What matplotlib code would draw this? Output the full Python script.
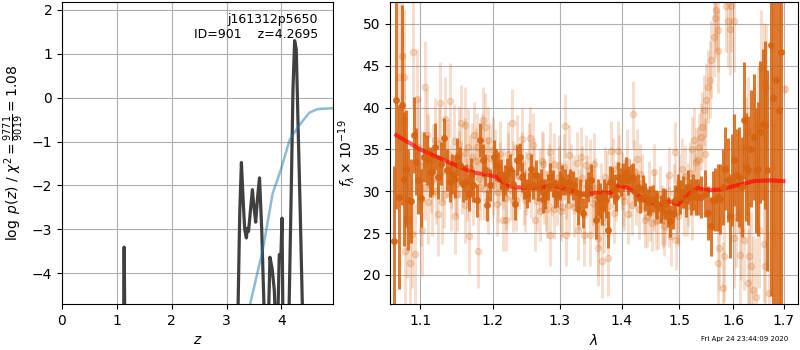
import numpy as np
import matplotlib
matplotlib.use('Agg')
import matplotlib.pyplot as plt
from matplotlib.ticker import NullLocator

# redshift probability (log p(z)) and the cumulative curve
pz_z = [0.0, 1.10, 1.125, 1.133, 1.142, 1.16, 3.15, 3.21, 3.24, 3.27, 3.30, 3.33, 3.36,
        3.38, 3.40, 3.44, 3.47, 3.50, 3.53, 3.57, 3.60, 3.64, 3.68, 3.71, 3.75, 3.77,
        3.79, 3.83, 3.87, 3.90, 3.92, 3.94, 3.96, 3.99, 4.01, 4.03, 4.06, 4.11, 4.14,
        4.18, 4.21, 4.24, 4.27, 4.30, 4.34, 4.38, 4.42, 4.95]
pz_logp = [-9.0, -6.0, -4.7, -3.41, -4.7, -6.0, -8.0, -4.7, -2.6, -1.48, -2.3, -3.0, -3.2,
           -2.98, -3.05, -2.5, -2.1, -2.5, -2.84, -2.2, -1.83, -3.0, -4.7, -6.0, -6.0, -4.7,
           -3.64, -3.9, -4.4, -5.5, -6.0, -4.7, -3.58, -3.6, -2.75, -5.5, -7.0, -7.0, -4.7,
           -2.0, 0.2, 1.30, 1.1, -0.5, -2.5, -4.7, -7.0, -9.0]
cum_z = [3.30, 3.43, 3.66, 3.84, 3.99, 4.15, 4.33, 4.51, 4.66, 4.80, 4.95]
cum_val = [-5.5, -4.7, -3.47, -2.18, -1.64, -0.96, -0.62, -0.34, -0.26, -0.25, -0.24]

# binned spectrum
dark_wave = [1.0655, 1.0686, 1.0730, 1.0760, 1.0786, 1.0817, 1.0839, 1.0874, 1.0917, 1.0948,
             1.0970, 1.1014, 1.1051, 1.1096, 1.1129, 1.1151, 1.1198, 1.1244, 1.1275, 1.1312,
             1.1358, 1.1395, 1.1427, 1.1473, 1.1495, 1.1542, 1.1574, 1.1619, 1.1656, 1.1694,
             1.1725, 1.1771, 1.1817, 1.1863, 1.1886, 1.1922, 1.1955,
             1.2015, 1.2044, 1.2078, 1.2114, 1.2143, 1.2177, 1.2211, 1.2251, 1.2291, 1.2325,
             1.2359, 1.2399, 1.2433, 1.2462, 1.2498, 1.2532, 1.2566, 1.2596, 1.2636, 1.2670,
             1.2705, 1.2744, 1.2779, 1.2813, 1.2852, 1.2891, 1.2926, 1.2965, 1.3000, 1.3042,
             1.3086, 1.3123, 1.3162, 1.3204, 1.3248, 1.3286, 1.3325, 1.3367, 1.3411, 1.3448,
             1.3503,
             1.3573, 1.3605, 1.3643, 1.3670, 1.3714, 1.3735, 1.3773, 1.3805, 1.3833, 1.3877,
             1.3898, 1.3942, 1.3984, 1.4025, 1.4065, 1.4112, 1.4158, 1.4193, 1.4228, 1.4275,
             1.4316, 1.4358, 1.4403, 1.4451, 1.4491, 1.4533, 1.4579, 1.4609, 1.4667, 1.4709,
             1.4754, 1.4802, 1.4842, 1.4884, 1.4930, 1.4972, 1.5019, 1.5063, 1.5112, 1.5162,
             1.5205, 1.5250, 1.5298,
             1.5348, 1.5399, 1.5460, 1.5521, 1.5572, 1.5615, 1.5659, 1.5708, 1.5758, 1.5801,
             1.5846, 1.5894, 1.5931, 1.5976, 1.6020, 1.6073, 1.6118, 1.6163, 1.6202, 1.6249,
             1.6294, 1.6347, 1.6398, 1.6445, 1.6490, 1.6529, 1.6574, 1.6622, 1.6661, 1.6739,
             1.6784, 1.6837, 1.6902, 1.6947]
dark_flux = [24.0, 40.9, 29.3, 40.3, 31.5, 32.7, 29.0, 28.8, 36.7, 33.5,
             31.3, 29.2, 34.1, 33.7, 32.3, 32.3, 35.3, 31.7, 33.3, 36.3,
             32.5, 31.1, 32.1, 31.5, 34.1, 33.1, 30.9, 31.1, 29.7, 31.9,
             30.7, 28.9, 36.1, 33.7, 32.5, 28.3, 30.7,
             34.1, 33.1, 32.9, 32.1, 30.5, 31.3, 32.1, 32.7, 30.9, 28.5,
             33.7, 34.1, 31.7, 30.7, 29.7, 30.5, 32.7, 30.7, 31.9, 30.5,
             31.1, 29.1, 29.7, 30.5, 31.7, 30.9, 29.7, 29.7, 30.7, 31.3,
             31.1, 30.3, 31.1, 30.7, 29.9, 27.9, 29.7, 27.4, 29.7, 30.5,
             31.3,
             26.6, 29.3, 28.9, 28.1, 29.5, 28.9, 25.4, 31.1, 31.1, 30.3,
             29.3, 31.7, 31.1, 31.7, 32.3, 31.3, 31.7, 31.7, 29.9, 30.5,
             29.1, 30.3, 29.3, 28.7, 28.9, 29.1, 28.5, 28.3, 27.9, 28.7,
             28.5, 27.5, 26.4, 27.3, 28.9, 30.1, 29.3, 29.9, 28.9, 30.5,
             29.3, 29.9, 29.3,
             29.3, 29.3, 29.7, 27.4, 25.8, 28.9, 29.0, 29.3, 29.1, 30.5,
             32.7, 31.3, 27.0, 31.3, 33.7, 31.9, 31.7, 30.5, 38.5, 32.9,
             32.5, 35.1, 36.5, 32.5, 32.7, 37.1, 38.0, 37.9, 32.5, 47.5,
             41.1, 43.3, 39.7, 46.6]
dark_err = [9.0, 13.0, 11.0, 12.0, 8.0, 7.0, 6.0, 5.0, 4.5, 4.0,
            4.0, 3.5, 3.0, 3.0, 3.0, 2.8, 2.8, 2.6, 2.6, 2.5,
            2.5, 2.4, 2.4, 2.3, 2.3, 2.2, 2.2, 2.2, 2.1, 2.1,
            2.0, 2.0, 2.0, 2.0, 1.9, 1.9, 1.9,
            2.0, 1.9, 1.8, 1.8, 1.7, 1.8, 1.9, 1.7, 1.8, 1.9,
            1.8, 1.7, 1.8, 1.6, 1.7, 1.8, 1.7, 1.6, 1.8, 1.7,
            1.6, 1.7, 1.8, 1.6, 1.7, 1.6, 1.7, 1.6, 1.7, 1.8,
            1.6, 1.7, 1.6, 1.7, 1.8, 1.9, 1.7, 1.8, 1.7, 1.8,
            1.9,
            2.3, 2.2, 2.1, 2.2, 2.0, 2.1, 2.2, 1.9, 1.8, 1.8,
            1.7, 1.8, 1.7, 1.7, 1.8, 1.7, 1.6, 1.7, 1.7, 1.6,
            1.7, 1.6, 1.7, 1.6, 1.7, 1.6, 1.7, 1.6, 1.7, 1.7,
            1.8, 1.8, 1.9, 1.8, 1.9, 1.9, 2.0, 1.9, 2.0, 2.0,
            2.1, 2.1, 2.2,
            2.2, 2.5, 2.8, 3.2, 3.5, 3.5, 3.8, 4.0, 4.2, 4.5,
            5.0, 5.0, 5.0, 5.5, 5.5, 5.5, 6.0, 6.0, 7.0, 6.5,
            6.5, 7.0, 7.5, 7.5, 8.0, 8.5, 9.0, 10.0, 12.0, 30.0,
            25.0, 30.0, 35.0, 40.0]

# unbinned spectrum pixels: scattered / contaminated ones
light_wave = [1.0730, 1.0760, 1.0786, 1.0786, 1.0803, 1.0826, 1.0861, 1.0891, 1.0904, 1.0935,
              1.0961, 1.0970, 1.1014, 1.1028, 1.1069, 1.1096, 1.1106, 1.1151, 1.1198, 1.1234,
              1.1258, 1.1289, 1.1336, 1.1358, 1.1404, 1.1418, 1.1464, 1.1495, 1.1519, 1.1556,
              1.1611, 1.1611, 1.1647, 1.1656, 1.1702, 1.1739, 1.1771, 1.1785, 1.1817, 1.1853,
              1.1886, 1.1932, 1.1932,
              1.2004, 1.2054, 1.2103, 1.2152, 1.2192, 1.2226, 1.2276, 1.2300, 1.2350, 1.2424,
              1.2472, 1.2547, 1.2596, 1.2621, 1.2694, 1.2744, 1.2794, 1.2842, 1.2856, 1.2917,
              1.2990, 1.3032, 1.3086, 1.3097, 1.3150, 1.3226, 1.3286, 1.3341, 1.3378, 1.3422,
              1.3475, 1.3531,
              1.3537, 1.3605, 1.3616, 1.3681, 1.3725, 1.3779, 1.3822, 1.3877, 1.3931, 1.4025,
              1.4100, 1.4170, 1.4193, 1.4252, 1.4316, 1.4403, 1.4491, 1.4551, 1.4591, 1.4709,
              1.4754, 1.4814, 1.4860, 1.4918, 1.4942, 1.4982, 1.5050, 1.5138, 1.5235, 1.5267,
              1.5336, 1.5367, 1.5386, 1.5410, 1.5447, 1.5460, 1.5491, 1.5521, 1.5553, 1.5584,
              1.5634, 1.5646, 1.5677, 1.5708, 1.5708, 1.5720, 1.5739, 1.5801, 1.5832, 1.5864,
              1.5894, 1.5944, 1.5957, 1.6020, 1.6020, 1.6053, 1.6137, 1.6151, 1.6216, 1.6249,
              1.6281, 1.6281, 1.6314, 1.6347, 1.6379, 1.6412, 1.6445, 1.6477, 1.6510, 1.6543,
              1.6594, 1.6608, 1.6622, 1.6641, 1.6706, 1.6804, 1.7020]
light_flux = [43.7, 46.2, 38.5, 43.7, 22.8, 26.6, 21.4, 24.9, 46.6, 22.5,
              41.0, 35.3, 28.9, 25.4, 42.4, 36.7, 28.7, 29.7, 36.1, 27.3,
              40.5, 28.7, 38.6, 33.7, 40.8, 29.7, 27.0, 29.7, 35.7, 38.2,
              37.9, 28.3, 35.3, 24.6, 34.1, 36.7, 35.3, 22.9, 30.5, 38.5,
              37.7, 28.9, 36.1,
              34.9, 28.5, 32.1, 26.6, 26.6, 34.5, 38.2, 28.9, 35.3, 36.2,
              28.9, 36.3, 35.5, 26.6, 27.6, 33.3, 28.9, 34.7, 24.8, 27.9,
              33.1, 28.1, 37.8, 24.8, 34.3, 28.1, 25.4, 34.1, 24.8, 33.1,
              24.8, 29.5,
              33.3, 24.4, 23.2, 21.7, 31.7, 22.0, 34.8, 27.4, 34.8, 29.4,
              27.3, 28.4, 39.2, 33.8, 32.1, 26.6, 27.4, 32.3, 26.4, 26.6,
              27.0, 31.9, 24.6, 34.7, 24.2, 27.0, 32.7, 28.2, 35.1, 36.1,
              33.7, 35.3, 36.5, 37.7, 39.7, 34.5, 40.9, 42.5, 43.3, 45.7,
              48.4, 50.7, 51.7, 49.3, 21.4, 46.7, 23.2, 18.4, 22.2, 52.1,
              50.3, 49.4, 52.1, 50.3, 24.4, 26.9, 22.4, 25.4, 24.2, 35.3,
              37.1, 19.0, 22.2, 21.0, 18.2, 36.5, 17.4, 37.7, 25.4, 44.7,
              23.7, 43.1, 21.0, 42.5, 17.8, 30.7, 42.2]
light_err = [9.0, 9.0, 8.0, 8.0, 7.0, 7.0, 6.5, 6.5, 6.5, 6.0,
             6.0, 6.0, 5.5, 5.5, 5.5, 5.5, 5.0, 5.0, 5.0, 5.0,
             5.0, 5.0, 5.0, 4.5, 4.5, 4.5, 4.5, 4.5, 4.5, 4.5,
             4.5, 4.5, 4.5, 4.5, 4.0, 4.0, 4.0, 4.5, 4.0, 4.0,
             4.0, 4.0, 4.0,
             4.0, 3.8, 3.8, 3.8, 3.8, 3.8, 4.0, 3.8, 3.8, 3.8,
             3.8, 3.8, 3.8, 3.8, 3.6, 3.6, 3.6, 3.6, 3.8, 3.6,
             3.6, 3.6, 3.8, 3.8, 3.6, 3.6, 3.6, 3.6, 3.8, 3.6,
             3.8, 3.6,
             3.6, 4.5, 4.5, 4.5, 3.6, 4.5, 3.6, 3.6, 3.6, 3.6,
             3.6, 3.6, 4.0, 3.6, 3.6, 3.4, 3.4, 3.4, 3.4, 3.4,
             3.4, 3.4, 3.6, 3.6, 3.6, 3.6, 3.6, 3.6, 3.8, 3.8,
             4.0, 4.0, 4.0, 4.2, 4.2, 4.2, 4.4, 4.4, 4.6, 4.6,
             4.8, 4.8, 5.0, 5.0, 5.0, 5.0, 5.0, 5.5, 5.5, 5.5,
             5.5, 5.5, 5.5, 6.0, 6.0, 6.0, 6.0, 6.0, 6.0, 6.0,
             6.5, 6.5, 6.5, 6.5, 6.5, 6.5, 7.0, 7.0, 7.0, 7.0,
             7.0, 7.0, 7.0, 7.5, 7.5, 7.5, 0.5]

# unbinned spectrum pixels: the bulk around the continuum
bulk_wave = [1.1025, 1.1065, 1.1105, 1.1140, 1.1175, 1.1215, 1.1250, 1.1290, 1.1325, 1.1370,
             1.1410, 1.1450, 1.1485, 1.1525, 1.1565, 1.1600, 1.1640, 1.1680, 1.1720, 1.1760,
             1.1800, 1.1840, 1.1880, 1.1915, 1.1960, 1.2000, 1.2035, 1.2070, 1.2105, 1.2140,
             1.2185, 1.2220, 1.2260, 1.2300, 1.2340, 1.2380, 1.2420, 1.2455, 1.2490, 1.2525,
             1.2560, 1.2610, 1.2650, 1.2690, 1.2725, 1.2760, 1.2800, 1.2835, 1.2880, 1.2910,
             1.2950, 1.2985, 1.3025, 1.3065, 1.3105, 1.3140, 1.3180, 1.3220, 1.3265, 1.3300,
             1.3350, 1.3390, 1.3430, 1.3485, 1.3520, 1.3560, 1.3625, 1.3660, 1.3700, 1.3750,
             1.3790, 1.3850, 1.3910, 1.3960, 1.4005, 1.4045, 1.4085, 1.4130, 1.4210, 1.4240,
             1.4295, 1.4340, 1.4380, 1.4425, 1.4470, 1.4515, 1.4560, 1.4620, 1.4650, 1.4690,
             1.4735, 1.4780, 1.4825, 1.4900, 1.4960, 1.5000, 1.5080, 1.5100, 1.5150, 1.5190,
             1.5230, 1.5280, 1.5310]
bulk_flux = [33.0, 30.5, 34.8, 31.2, 33.9, 30.0, 35.6, 32.4, 29.6, 34.4,
             31.8, 36.0, 30.9, 33.2, 31.0, 34.6, 30.2, 32.8, 29.5, 33.6,
             31.4, 35.0, 30.3, 32.5, 34.0, 30.8, 33.5, 29.9, 34.4, 31.5,
             29.2, 33.0, 30.1, 32.2, 28.9, 31.8, 33.4, 29.5, 31.0, 34.2,
             30.4, 32.6, 28.8, 31.4, 33.6, 30.0, 27.9, 32.0, 30.6, 33.2,
             29.4, 31.7, 27.6, 32.9, 30.2, 28.4, 31.9, 30.8, 33.4, 29.0,
             31.6, 27.2, 30.7, 32.5, 28.6, 30.4, 27.0, 29.8, 26.3, 30.9,
             28.2, 32.6, 30.0, 33.0, 31.2, 28.8, 33.6, 30.4, 32.4, 29.3,
             27.9, 31.0, 28.3, 26.9, 30.1, 26.2, 28.9, 26.6, 29.6, 27.2,
             25.8, 28.6, 26.9, 29.8, 27.5, 31.0, 28.4, 31.8, 29.6, 32.2,
             28.1, 30.8, 33.5]
bulk_err = [4.2, 3.9, 4.4, 3.8, 4.1, 3.9, 4.3, 3.7, 4.0, 4.2,
            3.8, 4.4, 3.9, 4.0, 3.7, 4.1, 3.8, 3.9, 3.6, 4.0,
            3.7, 4.2, 3.8, 3.9, 4.0, 3.6, 3.9, 3.7, 4.0, 3.6,
            3.8, 3.9, 3.5, 3.8, 3.6, 3.9, 3.7, 3.5, 3.8, 3.9,
            3.6, 3.7, 3.5, 3.8, 3.6, 3.9, 3.5, 3.7, 3.6, 3.8,
            3.5, 3.7, 3.6, 3.9, 3.5, 3.6, 3.8, 3.5, 3.7, 3.6,
            3.8, 3.5, 3.6, 3.7, 3.5, 3.6, 3.8, 3.6, 3.7, 3.9,
            3.5, 3.8, 3.6, 3.7, 3.5, 3.6, 3.8, 3.5, 3.7, 3.4,
            3.6, 3.5, 3.4, 3.6, 3.5, 3.4, 3.6, 3.5, 3.4, 3.6,
            3.5, 3.4, 3.6, 3.5, 3.7, 3.5, 3.8, 3.6, 3.8, 3.7,
            3.9, 3.8, 4.0]

# best-fit template
model_wave = [1.069, 1.100, 1.132, 1.159, 1.173, 1.191, 1.205, 1.220, 1.229, 1.249,
              1.269, 1.289, 1.309, 1.337, 1.359, 1.381, 1.396, 1.413, 1.431, 1.449,
              1.471, 1.483, 1.498, 1.514, 1.533, 1.551, 1.576, 1.607, 1.640, 1.674, 1.699]
model_flux = [36.7, 35.0, 33.7, 32.7, 32.2, 32.0, 31.7, 30.7, 30.5, 30.4,
              30.4, 30.7, 30.3, 29.6, 29.8, 29.8, 30.7, 30.3, 29.3, 28.6,
              28.4, 28.8, 28.4, 29.5, 30.4, 30.1, 30.2, 30.7, 31.2, 31.3, 31.2]

orange = (0.84, 0.39, 0.06)

fig = plt.figure(figsize=(8, 3.5), dpi=100)
ax = fig.add_axes([0.0775, 0.131, 0.3388, 0.863])
ax.plot(pz_z, pz_logp, color='0.25', lw=2.3)
ax.plot(cum_z, cum_val, color='tab:blue', alpha=0.5, lw=1.8)
ax.set_xlim(0, 4.94)
ax.set_ylim(-4.71, 2.18)
ax.set_xticks([0, 1, 2, 3, 4])
ax.set_yticks([-4, -3, -2, -1, 0, 1, 2])
ax.set_xlabel(r'$z$')
ax.set_ylabel(r'$\log\ p(z)$ / $\chi^2=\frac{9771}{9019}=1.08$')
ax.text(0.945, 0.965, 'j161312p5650\nID=901    z=4.2695', ha='right', va='top',
        transform=ax.transAxes, fontsize=9)
ax.grid()

ax2 = fig.add_axes([0.4875, 0.131, 0.51, 0.863])
ax2.errorbar(light_wave + bulk_wave, light_flux + bulk_flux, light_err + bulk_err,
             color=orange, alpha=0.2, marker='o', ms=4.5, linestyle='none', elinewidth=2.2)
ax2.errorbar(dark_wave, dark_flux, dark_err, color=orange, alpha=0.85,
             marker='o', ms=4, linestyle='none', elinewidth=2.2)
ax2.plot(model_wave, model_flux, color='r', alpha=0.65, lw=3)
ax2.set_xscale('log')
ax2.set_xlim(1.061, 1.729)
ax2.set_ylim(16.5, 52.6)
ax2.set_xticks([1.1, 1.2, 1.3, 1.4, 1.5, 1.6, 1.7])
ax2.set_xticklabels(['1.1', '1.2', '1.3', '1.4', '1.5', '1.6', '1.7'])
ax2.xaxis.set_minor_locator(NullLocator())
ax2.set_yticks([20, 25, 30, 35, 40, 45, 50])
ax2.set_xlabel(r'$\lambda$')
ax2.set_ylabel(r'$f_\lambda\times10^{-19}$')
ax2.grid()

fig.text(0.985, 0.025, 'Fri Apr 24 23:44:09 2020', ha='right', fontsize=5)

fig.savefig('out.png', dpi=100)
